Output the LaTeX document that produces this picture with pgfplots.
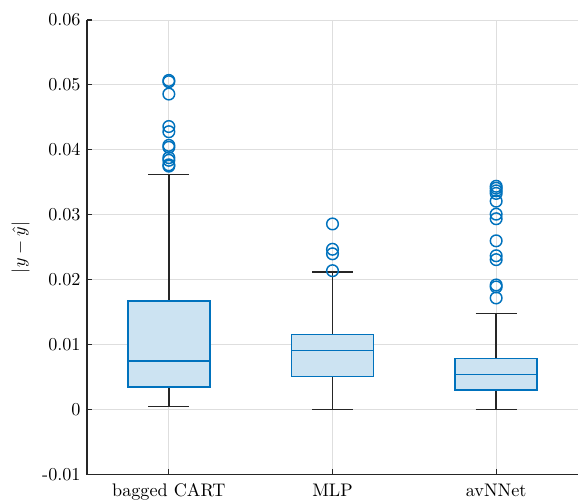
\documentclass[border=0pt]{standalone}
\usepackage{pgfplots}
\pgfplotsset{compat=1.18}
\definecolor{mblue}{RGB}{0,114,189}
\definecolor{mfill}{RGB}{204,227,242}
\definecolor{axgray}{RGB}{38,38,38}
\definecolor{gridgray}{RGB}{222,222,222}
\begin{document}
\begin{tikzpicture}
\begin{axis}[
  scale only axis, width=270pt, height=250pt,
  xmin=0.5, xmax=3.5, ymin=-0.01, ymax=0.06,
  xtick={1,2,3}, xticklabels={bagged CART, MLP, avNNet},
  xticklabel style={yshift=-1.5pt},
  ytick={-0.01,0,0.01,0.02,0.03,0.04,0.05,0.06},
  yticklabels={-0.01,0,0.01,0.02,0.03,0.04,0.05,0.06},
  scaled y ticks=false,
  grid=major, major grid style={gridgray, line width=0.55pt},
  axis x line*=bottom, axis y line*=left,
  axis line style={-, axgray, line width=0.6pt},
  tick style={axgray, line width=0.6pt}, major tick length=3pt,
  tick align=inside,
  ylabel={$|y-\hat{y}|$},
  ylabel style={yshift=0pt},
  whisk/.style={axgray, line width=0.85pt, no marks},
  boxs/.style={draw=mblue, fill=mfill, line width=0.85pt, no marks, line join=miter},
  med/.style={mblue, line width=0.85pt, no marks},
  outl/.style={only marks, mark=o, mblue, mark size=3.2pt, line width=0.8pt},
]
% ---- bagged CART: lw 0.0005, q1 0.0035, med 0.0075, q3 0.0167, uw 0.0362
\addplot[whisk] coordinates {(1,0.0167) (1,0.0362)};
\addplot[whisk] coordinates {(0.875,0.0362) (1.125,0.0362)};
\addplot[whisk] coordinates {(1,0.0005) (1,0.0035)};
\addplot[whisk] coordinates {(0.875,0.0005) (1.125,0.0005)};
\addplot[boxs] coordinates {(0.75,0.0035) (1.25,0.0035) (1.25,0.0167) (0.75,0.0167)} -- cycle;
\addplot[med] coordinates {(0.75,0.0075) (1.25,0.0075)};
\addplot[outl] coordinates {(1,0.0507) (1,0.0505) (1,0.0486) (1,0.0436) (1,0.0428) (1,0.0407) (1,0.0404) (1,0.0388) (1,0.0384) (1,0.0377) (1,0.0375)};
% ---- MLP: lw 0, q1 0.0051, med 0.0091, q3 0.0116, uw 0.0212
\addplot[whisk] coordinates {(2,0.0116) (2,0.0212)};
\addplot[whisk] coordinates {(1.875,0.0212) (2.125,0.0212)};
\addplot[whisk] coordinates {(2,0) (2,0.0051)};
\addplot[whisk] coordinates {(1.875,0) (2.125,0)};
\addplot[boxs] coordinates {(1.75,0.0051) (2.25,0.0051) (2.25,0.0116) (1.75,0.0116)} -- cycle;
\addplot[med] coordinates {(1.75,0.0091) (2.25,0.0091)};
\addplot[outl] coordinates {(2,0.0286) (2,0.0247) (2,0.0240) (2,0.0214)};
% ---- avNNet: lw 0, q1 0.0030, med 0.0054, q3 0.00785, uw 0.0148
\addplot[whisk] coordinates {(3,0.00785) (3,0.0148)};
\addplot[whisk] coordinates {(2.875,0.0148) (3.125,0.0148)};
\addplot[whisk] coordinates {(3,0) (3,0.0030)};
\addplot[whisk] coordinates {(2.875,0) (3.125,0)};
\addplot[boxs] coordinates {(2.75,0.0030) (3.25,0.0030) (3.25,0.00785) (2.75,0.00785)} -- cycle;
\addplot[med] coordinates {(2.75,0.0054) (3.25,0.0054)};
\addplot[outl] coordinates {(3,0.0344) (3,0.0341) (3,0.0337) (3,0.0333) (3,0.0321) (3,0.0301) (3,0.0294) (3,0.0260) (3,0.0237) (3,0.0231) (3,0.0192) (3,0.0189) (3,0.0172)};
\end{axis}
\pgfresetboundingbox
\path[use as bounding box] (-47.85pt,-14.3pt) rectangle (271.1pt,261pt);
\end{tikzpicture}
\end{document}
